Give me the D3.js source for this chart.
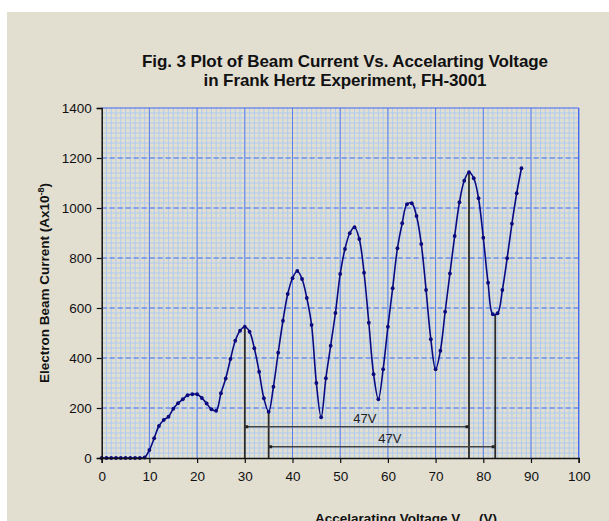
<!DOCTYPE html>
<html><head><meta charset="utf-8">
<script src="https://cdn.jsdelivr.net/npm/d3@7"></script>
<style>
html,body{margin:0;padding:0;background:#fff;}
svg{display:block;font-family:"Liberation Sans",Arial,sans-serif;}
</style></head>
<body><svg id="c" width="609" height="521"></svg>
<script>
// ---- data ----
const voltages = [0,1,2,3,4,5,6,7,8,9,10,11,12,13,14,15,16,17,18,19,20,21,22,23,24,25,26,27,28,29,30,31,32,33,34,35,36,37,38,39,40,41,42,43,44,45,46,47,48,49,50,51,52,53,54,55,56,57,58,59,60,61,62,63,64,65,66,67,68,69,70,71,72,73,74,75,76,77,78,79,80,81,82,83,84,85,86,87,88];
const currents = [0,0,0,0,0,0,0,0,0,2,32,79,128,152,165,197,219,235,251,255,255,240,218,195,189,259,318,396,469,509,525,505,439,345,239,185,285,421,549,656,719,748,716,640,532,300,163,319,449,580,736,836,899,923,876,741,541,335,235,355,525,679,839,939,1015,1019,968,856,672,475,355,429,585,738,888,1023,1109,1143,1119,1039,881,701,575,579,672,799,937,1059,1159];
const xTicks = [0,10,20,30,40,50,60,70,80,90,100];
const yTicks = [0,200,400,600,800,1000,1200,1400];
// marker verticals: [voltage, current]
const markerLines = [[30,525],[35,185],[77,1143],[82.5,575]];
// spans: [from V, to V, height (current units), label]
const spans = [[30,77,125,"47V"],[35,82.5,45,"47V"]];
const titleLines = ["Fig. 3 Plot of Beam Current Vs. Accelarting Voltage","in Frank Hertz Experiment, FH-3001"];

// ---- drawing ----
const svg = d3.select("#c");
svg.append("rect").attr("x",7).attr("y",12).attr("width",602).attr("height",509).attr("fill","#e2dfd1");

const x = d3.scaleLinear().domain([0,100]).range([101.7,578.7]);
const y = d3.scaleLinear().domain([0,1400]).range([458,108]);

const g = svg.append("g");
// minor grid
g.selectAll(".mx").data(d3.range(1,100)).enter().append("line")
  .attr("x1",d=>x(d)).attr("x2",d=>x(d)).attr("y1",y(0)).attr("y2",y(1400))
  .attr("stroke","#aecbf0").attr("stroke-width",1);
g.selectAll(".my").data(d3.range(20,1400,20)).enter().append("line")
  .attr("y1",d=>y(d)).attr("y2",d=>y(d)).attr("x1",x(0)).attr("x2",x(100))
  .attr("stroke","#aecbf0").attr("stroke-width",1);
// major grid
g.selectAll(".Mx").data(xTicks.filter(d=>d>0)).enter().append("line")
  .attr("x1",d=>x(d)).attr("x2",d=>x(d)).attr("y1",y(0)).attr("y2",y(1400))
  .attr("stroke","#5b7fe8").attr("stroke-width",1);
g.selectAll(".My").data(yTicks.filter(d=>d>0 && d<1400)).enter().append("line")
  .attr("y1",d=>y(d)).attr("y2",d=>y(d)).attr("x1",x(0)).attr("x2",x(100))
  .attr("stroke","#4a6ee6").attr("stroke-width",1).attr("stroke-dasharray","5,3");
g.append("line").attr("x1",x(0)).attr("x2",x(100)).attr("y1",y(1400)).attr("y2",y(1400)).attr("stroke","#3f66f0").attr("stroke-width",1.2);
g.append("line").attr("x1",x(100)).attr("x2",x(100)).attr("y1",y(0)).attr("y2",y(1400)).attr("stroke","#3f66f0").attr("stroke-width",1.2);

// annotation verticals
g.selectAll(".vl").data(markerLines).enter().append("line")
  .attr("x1",d=>x(d[0])).attr("x2",d=>x(d[0])).attr("y1",y(0)).attr("y2",d=>y(d[1]))
  .attr("stroke","#2b2b2b").attr("stroke-width",1.8);
// spans
spans.forEach(s=>{
  const x1 = x(s[0])+2, x2 = x(s[1])-2, yy = y(s[2]);
  g.append("line").attr("x1",x1).attr("x2",x2).attr("y1",yy).attr("y2",yy)
    .attr("stroke","#444").attr("stroke-width",1.6);
  [x1,x2].forEach(px=>g.append("rect").attr("x",px-1.5).attr("y",yy-1.5).attr("width",3).attr("height",3).attr("fill","#222"));
  g.append("text").attr("x",(x(s[0])+x(s[1]))/2+8).attr("y",yy-4)
    .attr("text-anchor","middle").attr("font-size",13).attr("fill","#222").text(s[3]);
});

// curve
const pts = voltages.map((v,i)=>[v,currents[i]]);
const line = d3.line().x(d=>x(d[0])).y(d=>y(d[1])).curve(d3.curveCatmullRom.alpha(0.5));
g.append("path").attr("d",line(pts)).attr("fill","none").attr("stroke","#0a0a80").attr("stroke-width",1.6);
g.selectAll(".pt").data(pts).enter().append("circle")
  .attr("cx",d=>x(d[0])).attr("cy",d=>y(d[1])).attr("r",1.9).attr("fill","#0a0a80");

// axes
const ya = svg.append("g").attr("transform",`translate(${x(0)},0)`)
  .call(d3.axisLeft(y).tickValues(yTicks).tickSize(5).tickPadding(5).tickFormat(d3.format("d")));
const xa = svg.append("g").attr("transform",`translate(0,${y(0)})`)
  .call(d3.axisBottom(x).tickValues(xTicks).tickSize(5).tickPadding(8));
[ya,xa].forEach(a=>{
  a.select(".domain").attr("stroke","#111").attr("stroke-width",1.5);
  a.selectAll(".tick line").attr("stroke","#111").attr("stroke-width",1.2);
  a.selectAll(".tick text").attr("font-size",13.5).attr("fill","#111").attr("font-family","Liberation Sans, Arial, sans-serif");
});

// titles
svg.append("text").attr("x",345).attr("y",67).attr("text-anchor","middle")
  .attr("font-size",17).attr("font-weight","bold").attr("fill","#111").attr("letter-spacing","-0.1").text(titleLines[0]);
svg.append("text").attr("x",345).attr("y",86).attr("text-anchor","middle")
  .attr("font-size",17).attr("font-weight","bold").attr("fill","#111").attr("letter-spacing","-0.1").text(titleLines[1]);

const yl = svg.append("text").attr("transform","translate(49,283) rotate(-90)").attr("text-anchor","middle")
  .attr("font-size",13.5).attr("font-weight","bold").attr("fill","#111");
yl.append("tspan").text("Electron Beam Current (Ax10");
yl.append("tspan").attr("dy",-5).attr("font-size",9).text("-8");
yl.append("tspan").attr("dy",5).text(")");

const xl = svg.append("text").attr("x",406).attr("y",523).attr("text-anchor","middle")
  .attr("font-size",13.5).attr("font-weight","bold").attr("fill","#111");
xl.append("tspan").text("Accelarating Voltage V");
xl.append("tspan").attr("dy",4).attr("font-size",9).text("acc");
xl.append("tspan").attr("dy",-4).text(" (V)");
</script></body></html>
